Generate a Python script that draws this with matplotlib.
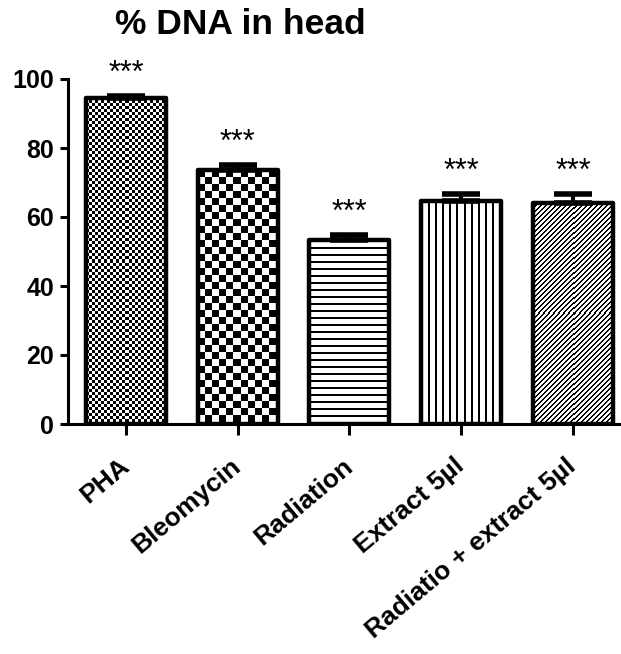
import numpy as np
import matplotlib
matplotlib.use("Agg")
import matplotlib.pyplot as plt

plt.rcParams['font.family'] = ['Liberation Sans', 'DejaVu Sans']

categories = ["PHA", "Bleomycin", "Radiation", "Extract 5µl", "Radiatio + extract 5µl"]
values = [94.5, 73.6, 53.2, 64.6, 64.2]
errors = [0.6, 1.4, 1.5, 2.0, 2.4]
significance = ["***", "***", "***", "***", "***"]
yticks = [0, 20, 40, 60, 80, 100]
patterns = ["checker_fine", "checker_coarse", "hlines", "vlines", "diag"]

W, H, DPI = 6.21, 6.54, 100
fig = plt.figure(figsize=(W, H), dpi=DPI)
ax = fig.add_axes([68 / 621, 1 - 424 / 654, 1 - 68 / 621, (424 - 79) / 654])

x = np.arange(len(categories))
bw = 0.716
ax.set_xlim(-0.519, 4.43)
ax.set_ylim(0, 100)

bars = ax.bar(x, values, width=bw, color="white", edgecolor="none", zorder=1)


def make_pattern(kind, w, h):
    yy, xx = np.mgrid[0:h, 0:w]
    if kind == "checker_fine":
        return ((xx // 3 + yy // 3) % 2).astype(float)
    if kind == "checker_coarse":
        return ((xx // 7 + yy // 7) % 2).astype(float)
    if kind == "hlines":
        return (yy % 7 >= 2).astype(float)
    if kind == "vlines":
        return (xx % 7 >= 2).astype(float)
    if kind == "diag":
        return ((xx + yy) % 5 >= 2).astype(float)
    return np.ones((h, w))


for b, kind in zip(bars, patterns):
    x0, y0 = b.get_x(), b.get_y()
    x1, y1 = x0 + b.get_width(), y0 + b.get_height()
    p0 = ax.transData.transform((x0, y0))
    p1 = ax.transData.transform((x1, y1))
    wpx = max(1, int(round(p1[0] - p0[0])))
    hpx = max(1, int(round(p1[1] - p0[1])))
    img = make_pattern(kind, wpx, hpx)
    im = ax.imshow(img, cmap="gray", vmin=0, vmax=1, interpolation="nearest",
                   extent=(x0, x1, y0, y1), origin="upper", aspect="auto", zorder=2)
    im.set_clip_path(b)

ax.bar(x, values, width=bw, fill=False, edgecolor="black", linewidth=3.2,
       joinstyle="round", zorder=3)
ax.errorbar(x, values, yerr=[np.zeros(len(values)), errors], fmt="none",
            ecolor="black", elinewidth=3, capsize=14, capthick=4, zorder=4)
ax.set_xlim(-0.519, 4.43)
ax.set_ylim(0, 100)

for xi, v, e, s in zip(x, values, errors, significance):
    ax.text(xi, v + e + 6.5, s, ha="center", va="center", fontsize=22,
            color="black", clip_on=False)

for side in ["top", "right"]:
    ax.spines[side].set_visible(False)
ax.spines["left"].set_linewidth(2.2)
ax.spines["bottom"].set_linewidth(2.2)
ax.spines["left"].set_capstyle("projecting")

ax.set_yticks(yticks)
ax.set_yticklabels([str(t) for t in yticks], fontsize=18, fontweight="bold")
ax.tick_params(axis="y", direction="out", length=6, width=2.2, pad=4)
ax.set_xticks(x)
ax.set_xticklabels(categories, fontsize=19, fontweight="bold", rotation=40,
                   ha="right", va="center", rotation_mode="anchor")
ax.tick_params(axis="x", direction="out", length=8, width=2.2, pad=20)

fig.text(240 / 621, 1 - 24 / 654, "% DNA in head", ha="center", va="center",
         fontsize=25.5, fontweight="bold")

fig.savefig("out.png", dpi=DPI)
